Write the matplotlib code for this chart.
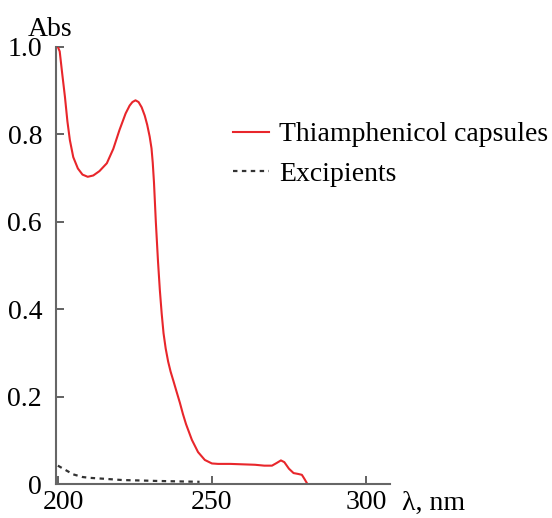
import matplotlib
matplotlib.use("Agg")
import matplotlib.pyplot as plt
import matplotlib.transforms as mtransforms

# values
wl_caps = [200.0, 200.6, 201.4, 202.3, 203.1, 203.9, 205.0, 206.5, 208.0, 209.7,
           211.5, 213.5, 215.9, 218.0, 220.0, 222.0, 223.3, 224.2, 225.2, 226.2,
           227.2, 228.2, 229.0, 229.8, 230.4, 230.8, 231.2, 231.8, 232.5, 233.1,
           233.7, 234.3, 235.0, 235.8, 236.6, 237.5, 238.5, 239.6, 240.6, 241.6,
           243.5, 245.5, 247.7, 250.0, 252.0, 256.0, 260.0, 264.0, 267.0, 269.5,
           271.0, 272.4, 273.5, 275.0, 276.5, 278.0, 279.2, 280.0, 281.0]
abs_caps = [1.00, 0.99, 0.94, 0.886, 0.83, 0.787, 0.748, 0.722, 0.708, 0.703,
            0.706, 0.716, 0.734, 0.767, 0.81, 0.848, 0.866, 0.874, 0.878, 0.874,
            0.862, 0.843, 0.822, 0.795, 0.768, 0.735, 0.69, 0.60, 0.51, 0.444,
            0.39, 0.345, 0.31, 0.28, 0.257, 0.236, 0.212, 0.186, 0.16, 0.137,
            0.101, 0.073, 0.055, 0.047, 0.046, 0.046, 0.045, 0.044, 0.042, 0.042,
            0.048, 0.054, 0.05, 0.035, 0.025, 0.023, 0.021, 0.012, 0.0]

wl_exc = [200, 202, 205, 208, 210.5, 215, 221, 227, 232, 239, 246]
abs_exc = [0.042, 0.034, 0.022, 0.016, 0.014, 0.012, 0.009, 0.008, 0.007, 0.006, 0.005]

x_ticks = [200, 250, 300]
y_ticks = [0, 0.2, 0.4, 0.6, 0.8, 1.0]
y_labels = ["0", "0.2", "0.4", "0.6", "0.8", "1.0"]

plt.rcParams["font.family"] = ["Liberation Serif", "DejaVu Serif"]
W, H = 552, 518
fig = plt.figure(figsize=(W / 100, H / 100), dpi=100)
ax = fig.add_axes([56 / W, (H - 484) / H, (390 - 56) / W, 437 / H])

ax.plot(wl_caps, abs_caps, color="#e8262b", lw=1.5, label="Thiamphenicol capsules")
ax.plot(wl_exc, abs_exc, color="#333333", lw=1.6, ls=(0, (2, 2)), label="Excipients")

ax.set_xlim(199.4, 307.8)
ax.set_ylim(0, 1.0)
ax.set_xticks(x_ticks)
ax.set_yticks(y_ticks)
ax.set_yticklabels(y_labels)
for s in ["top", "right"]:
    ax.spines[s].set_visible(False)
for s in ["left", "bottom"]:
    ax.spines[s].set_color("#666666")
    ax.spines[s].set_linewidth(1.5)
ax.tick_params(direction="in", length=6, width=1.3, color="#555555", labelsize=20)
ax.tick_params(axis="x", pad=4)
ax.tick_params(axis="y", pad=10)

# nudge the "200" label right so it clears the "0" of the y axis
lbl = ax.get_xticklabels()[0]
lbl.set_transform(lbl.get_transform() +
                  mtransforms.ScaledTranslation(6 / 100, 0, fig.dpi_scale_trans))

ax.legend(loc="upper left", bbox_to_anchor=(233 / W, 1 - 122 / H),
          bbox_transform=fig.transFigure, frameon=False, fontsize=20,
          handlelength=1.3, handletextpad=0.35, labelspacing=0.5,
          borderpad=0, borderaxespad=0)

fig.text(50 / W, 1 - 29 / H, "Abs", fontsize=20, ha="center", va="center")
fig.text(402 / W, 1 - 503 / H, "λ, nm", fontsize=20, ha="left", va="center")

fig.savefig("out.png", dpi=100)
